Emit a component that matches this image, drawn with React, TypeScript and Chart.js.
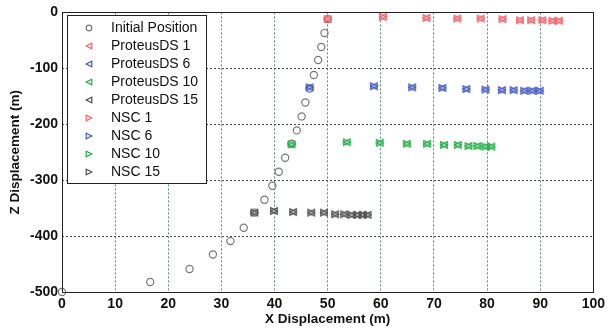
import React, { useEffect, useRef } from 'react';
import { Chart, registerables } from 'chart.js';
Chart.register(...registerables);

const seriesNames = ['Initial Position', 'ProteusDS 1', 'ProteusDS 6', 'ProteusDS 10', 'ProteusDS 15', 'NSC 1', 'NSC 6', 'NSC 10', 'NSC 15'];
const xTicks = [0, 10, 20, 30, 40, 50, 60, 70, 80, 90, 100];
const zTicks = [-500, -400, -300, -200, -100, 0];

const initialX = [50.0, 49.4, 48.8, 48.2, 47.4, 46.6, 45.8, 45.1, 44.2, 43.2, 42.0, 40.8, 39.6, 38.1, 36.2, 34.2, 31.7, 28.4, 24.0, 16.6, 0];
const initialZ = [-12, -37, -62, -85, -112, -136, -161, -186, -211, -235, -260, -285, -310, -335, -358, -385, -409, -433, -459, -482, -500];

const p1X = [50.0, 60.4, 68.6, 74.4, 78.8, 82.9, 86.2, 88.3, 90.4, 92.3, 93.5];
const p1Z = [-12, -8, -10, -11, -11, -12, -14, -14, -14, -15, -15];
const p6X = [46.6, 58.7, 65.9, 71.6, 76.1, 79.7, 82.8, 85.0, 87.0, 88.5, 89.9];
const p6Z = [-134, -132, -134, -135, -137, -138, -139, -139, -140, -140, -140];
const p10X = [43.2, 53.6, 59.8, 64.9, 68.7, 71.9, 74.5, 76.5, 78.2, 79.7, 80.8];
const p10Z = [-236, -232, -233, -235, -235, -237, -237, -239, -239, -240, -240];
const p15X = [36.2, 39.9, 43.5, 46.9, 49.3, 51.4, 53.1, 54.5, 55.6, 56.6, 57.5];
const p15Z = [-358, -355, -357, -358, -358, -361, -361, -362, -362, -362, -362];

const n1X = [50.0, 60.4, 68.6, 74.4, 78.8, 82.9, 86.2, 88.3, 90.4, 92.3, 93.5];
const n1Z = [-12, -8, -10, -11, -11, -12, -14, -14, -14, -15, -15];
const n6X = [46.6, 58.7, 65.9, 71.6, 76.1, 79.7, 82.8, 85.0, 87.0, 88.5, 89.9];
const n6Z = [-134, -132, -134, -135, -137, -138, -139, -139, -140, -140, -140];
const n10X = [43.2, 53.6, 59.8, 64.9, 68.7, 71.9, 74.5, 76.5, 78.2, 79.7, 80.8];
const n10Z = [-236, -232, -233, -235, -235, -237, -237, -239, -239, -240, -240];
const n15X = [36.2, 39.9, 43.5, 46.9, 49.3, 51.4, 53.1, 54.5, 55.6, 56.6, 57.5];
const n15Z = [-358, -355, -357, -358, -358, -361, -361, -362, -362, -362, -362];

const RED = '#f0606a';
const BLUE = '#4058c0';
const GREEN = '#22ae48';
const GREY = '#505050';
const CIRC = '#777777';

const FONT = '"Liberation Sans", Arial, sans-serif';

const pts = (xs: number[], zs: number[]) => xs.map((x, i) => ({ x, y: zs[i] }));

type Spec = { color: string; style: 'circle' | 'left' | 'right' };
const specs: Spec[] = [
  { color: CIRC, style: 'circle' },
  { color: RED, style: 'left' },
  { color: BLUE, style: 'left' },
  { color: GREEN, style: 'left' },
  { color: GREY, style: 'left' },
  { color: RED, style: 'right' },
  { color: BLUE, style: 'right' },
  { color: GREEN, style: 'right' },
  { color: GREY, style: 'right' },
];

function pathMarker(ctx: CanvasRenderingContext2D, s: Spec, x: number, y: number, r: number) {
  ctx.beginPath();
  if (s.style === 'circle') {
    ctx.arc(x, y, r, 0, Math.PI * 2);
  } else {
    const d = s.style === 'left' ? -1 : 1;
    ctx.moveTo(x + d * r, y);
    ctx.lineTo(x - d * r, y - r);
    ctx.lineTo(x - d * r, y + r);
    ctx.closePath();
  }
}

function markerImage(s: Spec): HTMLCanvasElement {
  const c = document.createElement('canvas');
  c.width = 10;
  c.height = 10;
  const ctx = c.getContext('2d')!;
  ctx.strokeStyle = s.color;
  ctx.lineWidth = 1.3;
  pathMarker(ctx, s, 5, 5, 3.2);
  ctx.stroke();
  return c;
}

const overlayPlugin = {
  id: 'overlay',
  afterDraw(chart: any) {
    const ctx: CanvasRenderingContext2D = chart.ctx;
    const a = chart.chartArea;
    ctx.save();
    ctx.strokeStyle = '#222';
    ctx.lineWidth = 1;
    ctx.strokeRect(Math.round(a.left) + 0.5, Math.round(a.top) + 0.5, Math.round(a.right - a.left), Math.round(a.bottom - a.top));
    // legend
    const bx = 67.5, by = 15.5, bw = 139, bh = 168;
    ctx.fillStyle = '#fff';
    ctx.fillRect(bx, by, bw, bh);
    ctx.strokeStyle = '#222';
    ctx.strokeRect(bx, by, bw, bh);
    ctx.font = `14px ${FONT}`;
    ctx.fillStyle = '#111';
    ctx.textBaseline = 'middle';
    ctx.textAlign = 'left';
    seriesNames.forEach((name, i) => {
      const y = 28 + 18 * i;
      ctx.strokeStyle = specs[i].color;
      ctx.lineWidth = 1.2;
      pathMarker(ctx, specs[i], 89, y, 2.8);
      ctx.stroke();
      ctx.fillText(name, 111, y + 0.5);
    });
    ctx.restore();
  },
};

export default function App() {
  const ref = useRef<HTMLCanvasElement>(null);
  useEffect(() => {
    document.body.style.margin = '0';
    const lists: [number[], number[]][] = [
      [initialX, initialZ], [p1X, p1Z], [p6X, p6Z], [p10X, p10Z], [p15X, p15Z],
      [n1X, n1Z], [n6X, n6Z], [n10X, n10Z], [n15X, n15Z],
    ];
    const datasets = lists.map(([xs, zs], i) => {
      const s = specs[i];
      return {
        label: seriesNames[i],
        data: pts(xs, zs),
        showLine: false,
        clip: false,
        pointStyle: s.style === 'circle' ? 'circle' : markerImage(s),
        pointRadius: 3.6,
        pointBorderWidth: 1.2,
        borderColor: s.color,
        backgroundColor: 'rgba(0,0,0,0)',
        pointBackgroundColor: 'rgba(0,0,0,0)',
        order: 9 - i,
      };
    });
    const tickFont = { family: FONT, size: 14, weight: 'bold' };
    const titleFont = { family: FONT, size: 13.5, weight: 'bold' };
    const chart = new Chart(ref.current!, {
      type: 'scatter',
      data: { datasets },
      options: {
        animation: false,
        responsive: true,
        maintainAspectRatio: false,
        layout: { padding: { top: 12, right: 11, left: 7, bottom: 2 } },
        plugins: { legend: { display: false }, tooltip: { enabled: false } },
        scales: {
          x: {
            type: 'linear',
            min: 0,
            max: 100,
            afterBuildTicks: (s: any) => { s.ticks = xTicks.map((v) => ({ value: v })); },
            afterFit: (s: any) => { s.height = 35; },
            ticks: { font: tickFont, color: '#111', padding: 4, maxRotation: 0 },
            grid: { color: '#5a82a0', lineWidth: 1, drawTicks: false },
            border: { display: false, dash: [2, 2] },
            title: { display: true, text: 'X Displacement (m)', font: titleFont, color: '#111', padding: { top: 0, bottom: 0 } },
          },
          y: {
            type: 'linear',
            min: -500,
            max: 0,
            afterBuildTicks: (s: any) => { s.ticks = zTicks.map((v) => ({ value: v })); },
            afterFit: (s: any) => { s.width = 55; },
            ticks: { font: tickFont, color: '#111', padding: 4 },
            grid: { color: '#444', lineWidth: 1, drawTicks: false },
            border: { display: false, dash: [2, 2] },
            title: { display: true, text: 'Z Displacement (m)', font: titleFont, color: '#111', padding: { top: 0, bottom: 0 } },
          },
        },
      },
      plugins: [overlayPlugin],
    } as any);
    return () => chart.destroy();
  }, []);
  return (
    <div style={{ width: 609, height: 329, position: 'relative' }}>
      <canvas ref={ref} />
    </div>
  );
}
